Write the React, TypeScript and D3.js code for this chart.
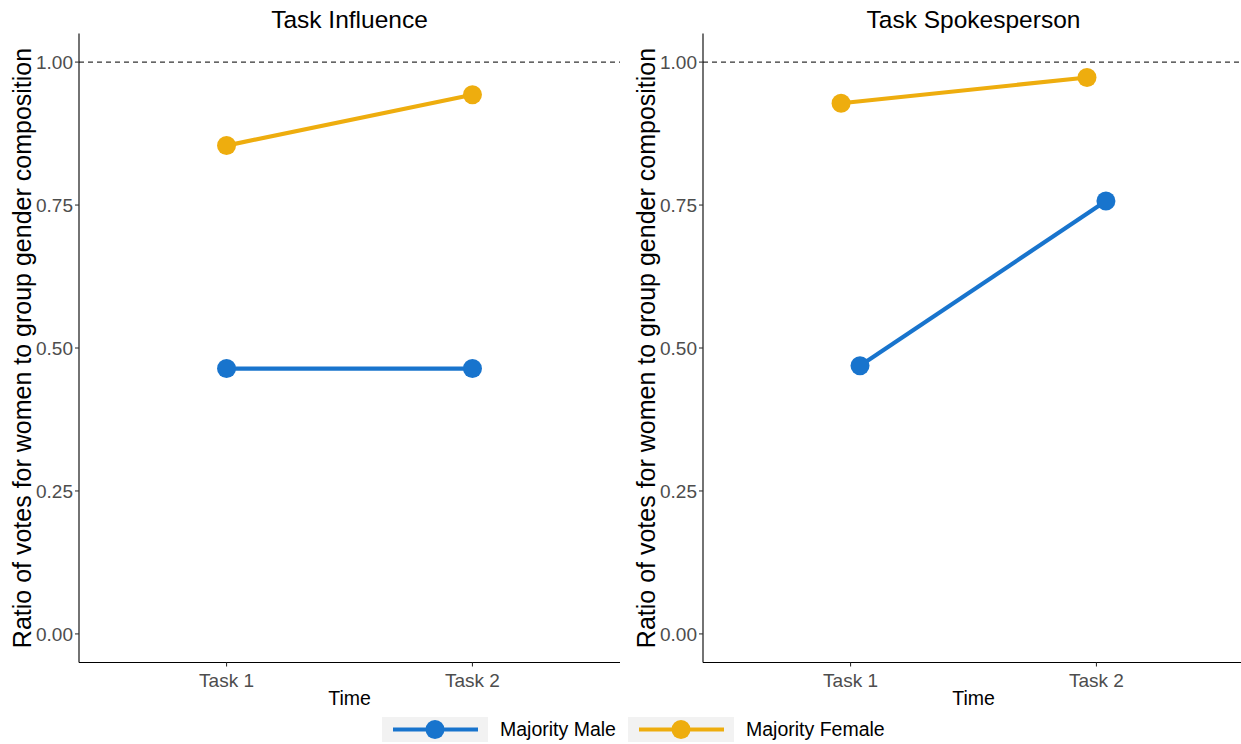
import React from "react";
import * as d3 from "d3";

const tasks = ["Task 1", "Task 2"];
const panelTitles = ["Task Influence", "Task Spokesperson"];
const groups = ["Majority Male", "Majority Female"];
const groupColors = ["#1874CD", "#EEAD0E"];
const influenceMale = [0.464, 0.464];
const influenceFemale = [0.854, 0.943];
const spokesMale = [0.469, 0.757];
const spokesFemale = [0.928, 0.973];
const yTicks = [0, 0.25, 0.5, 0.75, 1.0];
const referenceLine = 1.0;
// dodge offsets (in category units) per panel: [male, female]
const panelDodge = [
  [0, 0],
  [0.0385, -0.0385],
];

const W = 1241;
const H = 744;
const FONT = "'Liberation Sans', Arial, sans-serif";

const panels = [
  { x0: 79, x1: 620, male: influenceMale, female: influenceFemale },
  { x0: 703, x1: 1244, male: spokesMale, female: spokesFemale },
];

const yScale = d3.scaleLinear().domain([-0.05, 1.05]).range([662.5, 33.5]);

function Panel({ idx }: { idx: number }) {
  const p = panels[idx];
  const x = d3.scaleLinear().domain([0.4, 2.6]).range([p.x0, p.x1]);
  const series = [p.male, p.female];
  const line = d3
    .line<[number, number]>()
    .x((d) => d[0])
    .y((d) => d[1]);
  const yBottom = yScale.range()[0];
  const yTop = yScale.range()[1];
  return (
    <g>
      <text
        x={(p.x0 + p.x1) / 2}
        y={28}
        textAnchor="middle"
        fontSize={24.5}
        fill="#000"
      >
        {panelTitles[idx]}
      </text>
      {/* reference line */}
      <line
        x1={p.x0}
        x2={p.x1}
        y1={yScale(referenceLine)}
        y2={yScale(referenceLine)}
        stroke="#333"
        strokeWidth={1.3}
        strokeDasharray="5,4"
      />
      {/* series */}
      {series.map((vals, si) => {
        const pts: [number, number][] = vals.map((v, i) => [
          x(i + 1 + panelDodge[idx][si]),
          yScale(v),
        ]);
        return (
          <g key={si}>
            <path
              d={line(pts) || ""}
              fill="none"
              stroke={groupColors[si]}
              strokeWidth={4.2}
            />
            {pts.map((pt, i) => (
              <circle key={i} cx={pt[0]} cy={pt[1]} r={9.5} fill={groupColors[si]} />
            ))}
          </g>
        );
      })}
      {/* axes */}
      <line x1={p.x0} x2={p.x0} y1={yTop} y2={yBottom} stroke="#000" strokeWidth={1.1} />
      <line x1={p.x0} x2={p.x1} y1={yBottom} y2={yBottom} stroke="#000" strokeWidth={1.1} />
      {yTicks.map((t) => (
        <g key={t}>
          <line x1={p.x0 - 4} x2={p.x0} y1={yScale(t)} y2={yScale(t)} stroke="#333" strokeWidth={1.1} />
          <text
            x={p.x0 - 6}
            y={yScale(t)}
            dy="0.35em"
            textAnchor="end"
            fontSize={19}
            fill="#4D4D4D"
          >
            {d3.format(".2f")(t)}
          </text>
        </g>
      ))}
      {tasks.map((t, i) => (
        <g key={t}>
          <line x1={x(i + 1)} x2={x(i + 1)} y1={yBottom} y2={yBottom + 4} stroke="#333" strokeWidth={1.1} />
          <text x={x(i + 1)} y={yBottom + 24} textAnchor="middle" fontSize={19} fill="#4D4D4D">
            {t}
          </text>
        </g>
      ))}
      <text x={(p.x0 + p.x1) / 2} y={705} textAnchor="middle" fontSize={19.5} fill="#000">
        Time
      </text>
      <text
        transform={`translate(${p.x0 - 48},${(yTop + yBottom) / 2}) rotate(-90)`}
        textAnchor="middle"
        fontSize={25}
        fill="#000"
      >
        Ratio of votes for women to group gender composition
      </text>
    </g>
  );
}

function Legend() {
  const keys = [
    { x: 382, label: groups[0], color: groupColors[0] },
    { x: 628, label: groups[1], color: groupColors[1] },
  ];
  return (
    <g>
      {keys.map((k) => (
        <g key={k.label}>
          <rect x={k.x} y={717} width={106} height={25} fill="#F2F2F2" />
          <line x1={k.x + 11} x2={k.x + 96} y1={729.5} y2={729.5} stroke={k.color} strokeWidth={4.2} />
          <circle cx={k.x + 53} cy={729.5} r={9.5} fill={k.color} />
          <text x={k.x + 118} y={729.5} dy="0.35em" fontSize={19.5} fill="#000">
            {k.label}
          </text>
        </g>
      ))}
    </g>
  );
}

export default function App() {
  return (
    <svg
      width={W}
      height={H}
      style={{ position: "absolute", left: 0, top: 0, background: "#fff", fontFamily: FONT }}
    >
      <rect x={0} y={0} width={W} height={H} fill="#fff" />
      <Panel idx={0} />
      <Panel idx={1} />
      <Legend />
    </svg>
  );
}
